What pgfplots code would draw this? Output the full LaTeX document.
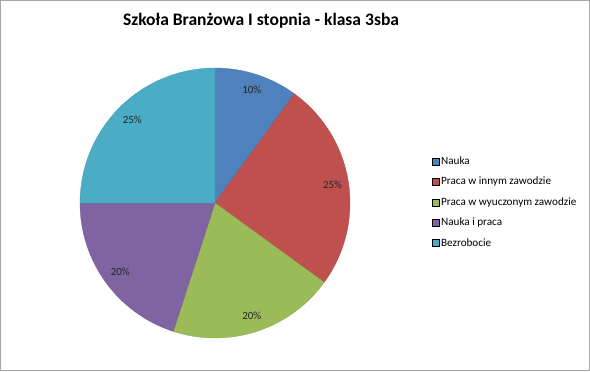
\documentclass[border=0pt]{standalone}
\usepackage{pgfplots}
\pgfplotsset{compat=1.18}
\usepackage{fontspec}
\setmainfont{Carlito}
\definecolor{cNauka}{HTML}{4F81BD}
\definecolor{cInny}{HTML}{C0504D}
\definecolor{cWyucz}{HTML}{9BBB59}
\definecolor{cNP}{HTML}{8064A2}
\definecolor{cBez}{HTML}{4BACC6}
\begin{document}
\begin{tikzpicture}
% values (percent): Nauka 10, Praca w innym zawodzie 25, Praca w wyuczonym zawodzie 20, Nauka i praca 20, Bezrobocie 25
\begin{axis}[
  width=590bp, height=371bp, scale only axis,
  xmin=0, xmax=590, ymin=0, ymax=371, y dir=reverse,
  hide axis, clip=false,
  area legend,
  legend image code/.code={\draw[#1, draw=.!75!black, line width=0.4pt] (0bp,-3.5bp) rectangle (7bp,3.5bp);},
  legend style={at={(axis cs:432,155)}, anchor=north west, draw=none, fill=none,
    font=\fontsize{11.2}{13}\selectfont, row sep=8.2bp, inner sep=0pt,
    nodes={inner sep=1.5bp}},
  legend cell align=left,
]
\draw[gray!70, line width=1bp] (axis cs:0.5,0.5) rectangle (axis cs:589.5,370.5);
\node[font=\bfseries\fontsize{17.6}{21}\selectfont] at (axis cs:261,21) {Szkoła Branżowa I stopnia - klasa 3sba};
\addplot[fill=cNauka, draw=cNauka!90!black, line width=0.3bp, domain={90}:{90-3.6*10}, samples=30, variable=\t]
  ({215+135*cos(\t)},{203-135*sin(\t)}) -- (axis cs:215,203) -- cycle;
\addplot[fill=cInny, draw=cInny!90!black, line width=0.3bp, domain={90-3.6*10}:{90-3.6*35}, samples=60, variable=\t]
  ({215+135*cos(\t)},{203-135*sin(\t)}) -- (axis cs:215,203) -- cycle;
\addplot[fill=cWyucz, draw=cWyucz!90!black, line width=0.3bp, domain={90-3.6*35}:{90-3.6*55}, samples=50, variable=\t]
  ({215+135*cos(\t)},{203-135*sin(\t)}) -- (axis cs:215,203) -- cycle;
\addplot[fill=cNP, draw=cNP!90!black, line width=0.3bp, domain={90-3.6*55}:{90-3.6*75}, samples=50, variable=\t]
  ({215+135*cos(\t)},{203-135*sin(\t)}) -- (axis cs:215,203) -- cycle;
\addplot[fill=cBez, draw=cBez!90!black, line width=0.3bp, domain={90-3.6*75}:{90-3.6*100}, samples=60, variable=\t]
  ({215+135*cos(\t)},{203-135*sin(\t)}) -- (axis cs:215,203) -- cycle;
\legend{Nauka, Praca w innym zawodzie, Praca w wyuczonym zawodzie, Nauka i praca, Bezrobocie}
\begin{scope}[every node/.style={font=\fontsize{11}{13}\selectfont, text=black!85}]
\node at (axis cs:{215+119*cos(72)},{203-119*sin(72)}) {10\%};
\node at (axis cs:{215+119*cos(9)},{203-119*sin(9)}) {25\%};
\node at (axis cs:{215+119*cos(-72)},{203-119*sin(-72)}) {20\%};
\node at (axis cs:{215+117*cos(-144)},{203-117*sin(-144)}) {20\%};
\node at (axis cs:{215+117*cos(135)},{203-117*sin(135)}) {25\%};
\end{scope}
\end{axis}
\end{tikzpicture}
\end{document}
